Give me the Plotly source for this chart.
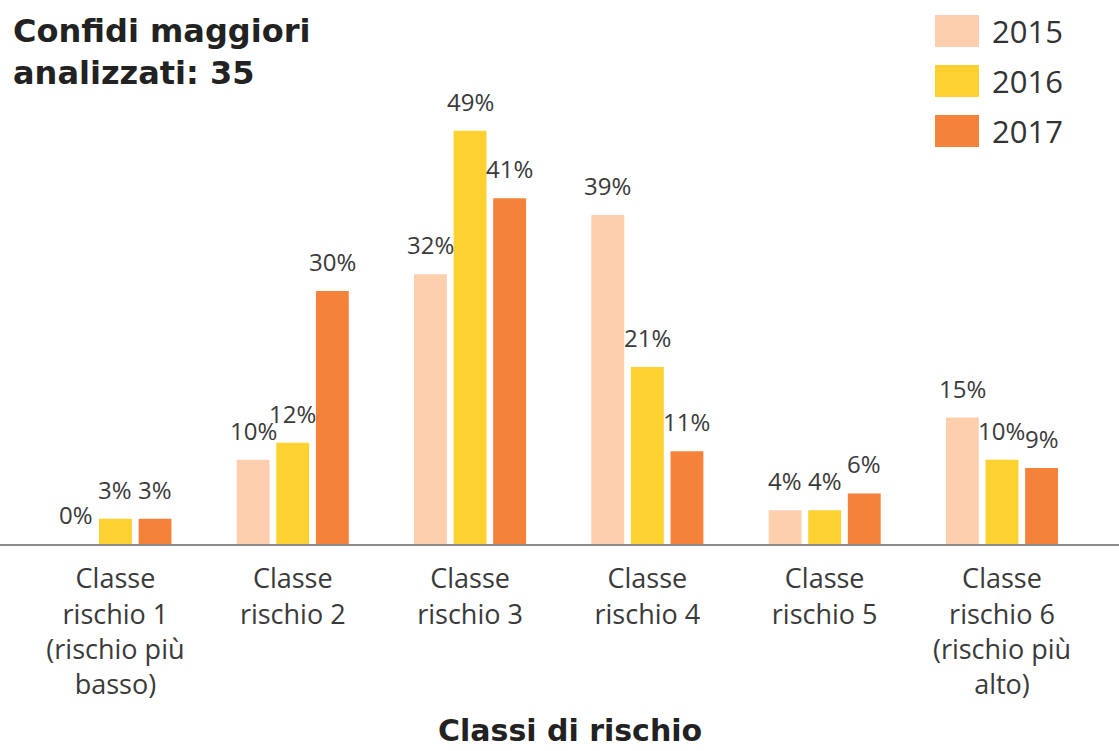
import plotly.graph_objects as go

categories = [
    "Classe<br>rischio 1<br>(rischio più<br>basso)",
    "Classe<br>rischio 2",
    "Classe<br>rischio 3",
    "Classe<br>rischio 4",
    "Classe<br>rischio 5",
    "Classe<br>rischio 6<br>(rischio più<br>alto)",
]
years = ["2015", "2016", "2017"]
values_2015 = [0, 10, 32, 39, 4, 15]
values_2016 = [3, 12, 49, 21, 4, 10]
values_2017 = [3, 30, 41, 11, 6, 9]
series = [values_2015, values_2016, values_2017]
colors = ["#FDCFAE", "#FDD12F", "#F5823A"]

title_text = "Confidi maggiori<br>analizzati: 35"
x_title = "Classi di rischio"

FONT = "Open Sans"
BOLD = "DejaVu Sans"
TXT = "#3a3a3a"
BARGAP = 0.33
GROUPGAP = 0.17

W, H = 1119, 751
ML, MR, MT, MB = 0, 0, 100, 207
pw, ph = W - ML - MR, H - MT - MB


def px_x(px):
    return (px - ML) / pw


def px_y(py):
    return (H - MB - py) / ph


fig = go.Figure()
for name, vals, col in zip(years, series, colors):
    fig.add_trace(go.Bar(
        x=categories, y=vals, name=name, marker_color=col,
        marker_line_width=0, showlegend=False,
    ))

# value labels above bars
n = len(series)
slot = (1 - BARGAP) / n
annotations = []
for j, vals in enumerate(series):
    off = (j - (n - 1) / 2) * slot
    for i, v in enumerate(vals):
        annotations.append(dict(
            x=i + off, y=v, xref="x", yref="y", text=f"{v}%",
            showarrow=False, yanchor="bottom", xanchor="center", yshift=11,
            font=dict(family=FONT, size=24, color=TXT),
        ))

# title
annotations.append(dict(
    x=px_x(11), y=px_y(10), xref="paper", yref="paper", text=f"<b>{title_text}</b>",
    showarrow=False, xanchor="left", yanchor="top", align="left",
    font=dict(family=BOLD, size=32, color="#222222"),
))
# x axis title
annotations.append(dict(
    x=px_x(570), y=px_y(711), xref="paper", yref="paper", text=f"<b>{x_title}</b>",
    showarrow=False, xanchor="center", yanchor="top",
    font=dict(family=BOLD, size=30, color="#222222"),
))

# custom legend
shapes = []
for k, (name, col) in enumerate(zip(years, colors)):
    top = 15 + 50 * k
    shapes.append(dict(
        type="rect", xref="paper", yref="paper",
        x0=px_x(935), x1=px_x(979), y0=px_y(top + 32), y1=px_y(top),
        fillcolor=col, line_width=0,
    ))
    annotations.append(dict(
        x=px_x(990), y=px_y(top + 16), xref="paper", yref="paper", text=name,
        showarrow=False, xanchor="left", yanchor="middle",
        font=dict(family=FONT, size=31, color="#333333"),
    ))

fig.update_layout(
    width=W, height=H,
    margin=dict(l=ML, r=MR, t=MT, b=MB, pad=0),
    paper_bgcolor="white", plot_bgcolor="white",
    barmode="group", bargap=BARGAP, bargroupgap=GROUPGAP,
    annotations=annotations, shapes=shapes,
    xaxis=dict(
        type="category", range=[-0.651, 5.66], showgrid=False, zeroline=False,
        showline=True, linecolor="#8C8C8C", linewidth=2,
        ticks="", ticklabelstandoff=10,
        tickfont=dict(family=FONT, size=27, color=TXT),
    ),
    yaxis=dict(range=[0, 52.65], visible=False, showgrid=False, zeroline=False),
    font=dict(family=FONT),
)

fig.write_html("out.html")
